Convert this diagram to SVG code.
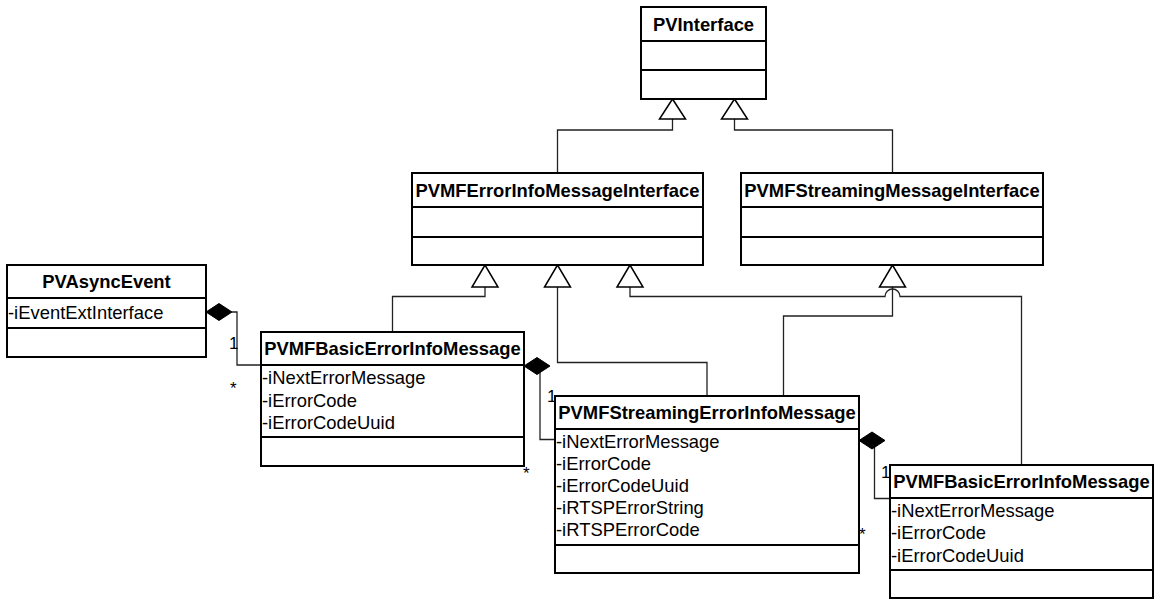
<svg xmlns="http://www.w3.org/2000/svg" width="1156" height="599" viewBox="0 0 1156 599">
<style>
.box{fill:#fff;stroke:#000;stroke-width:2}
.div{stroke:#000;stroke-width:2}
.t{font-family:"Liberation Sans",Arial,sans-serif;font-size:18.4px;font-weight:bold;text-anchor:middle;fill:#000}
.a{font-family:"Liberation Sans",Arial,sans-serif;font-size:18.4px;fill:#000}
.lbl{font-family:"Liberation Sans",Arial,sans-serif;font-size:17px;fill:#000}
.c{fill:none;stroke:#222;stroke-width:1.3}
.tri{fill:#fff;stroke:#000;stroke-width:1.5}
.dia{fill:#000;stroke:#000;stroke-width:1}
</style>
<rect width="1156" height="599" fill="#fff"/>
<g id="connectors">
<path class="c" d="M557.5 173 V130 H672.5 V119"/>
<polygon class="tri" points="672.5,99 659.5,119 685.5,119"/>
<path class="c" d="M892.5 173 V130 H734.5 V119"/>
<polygon class="tri" points="734.5,99 721.5,119 747.5,119"/>
<path class="c" d="M392.5 332 V296.5 H485 V287"/>
<polygon class="tri" points="485,265 472,287 498,287"/>
<path class="c" d="M707 396 V362.5 H557.5 V287"/>
<polygon class="tri" points="557.5,265 544.5,287 570.5,287"/>
<path class="c" d="M1021.5 465 V296.5 H900 A7.5 7.5 0 0 0 885 296.5 H630 V287"/>
<polygon class="tri" points="630,265 617,287 643,287"/>
<path class="c" d="M783.5 396 V316 H892.5 V287"/>
<polygon class="tri" points="892.5,265 879.5,287 905.5,287"/>
<path class="c" d="M232 312 H237 V365 H261"/>
<polygon class="dia" points="206,312 219,303.5 232,312 219,320.5"/>
<path class="c" d="M540 366 V439.5 H555"/>
<polygon class="dia" points="524,366 537,357.5 550,366 537,374.5"/>
<path class="c" d="M874.5 440.5 V498.5 H890"/>
<polygon class="dia" points="859,440.5 872,432 885,440.5 872,449"/>
<text class="lbl" x="229" y="349">1</text>
<text class="lbl" x="230" y="394">*</text>
<text class="lbl" x="547" y="402">1</text>
<text class="lbl" x="523" y="479">*</text>
<text class="lbl" x="881" y="477.5">1</text>
<text class="lbl" x="859" y="540">*</text>
</g>
<g id="PVInterface">
<rect class="box" x="641" y="7" width="125" height="92"/>
<line class="div" x1="641" y1="41" x2="766" y2="41"/>
<line class="div" x1="641" y1="70" x2="766" y2="70"/>
<text class="t" x="703.5" y="30.5">PVInterface</text>
</g>
<g id="PVMFErrorInfoMessageInterface">
<rect class="box" x="412" y="173" width="291" height="92"/>
<line class="div" x1="412" y1="207" x2="703" y2="207"/>
<line class="div" x1="412" y1="237" x2="703" y2="237"/>
<text class="t" x="557.5" y="196.5">PVMFErrorInfoMessageInterface</text>
</g>
<g id="PVMFStreamingMessageInterface">
<rect class="box" x="741" y="173" width="302" height="92"/>
<line class="div" x1="741" y1="207" x2="1043" y2="207"/>
<line class="div" x1="741" y1="237" x2="1043" y2="237"/>
<text class="t" x="892" y="196.5">PVMFStreamingMessageInterface</text>
</g>
<g id="PVAsyncEvent">
<rect class="box" x="7" y="265" width="199" height="92"/>
<line class="div" x1="7" y1="298" x2="206" y2="298"/>
<line class="div" x1="7" y1="328" x2="206" y2="328"/>
<text class="t" x="106.5" y="288">PVAsyncEvent</text>
<text class="a" x="8" y="319">-iEventExtInterface</text>
</g>
<g id="PVMFBasicErrorInfoMessage1">
<rect class="box" x="261" y="332" width="263" height="134"/>
<line class="div" x1="261" y1="365" x2="524" y2="365"/>
<line class="div" x1="261" y1="437" x2="524" y2="437"/>
<text class="t" x="392.5" y="355">PVMFBasicErrorInfoMessage</text>
<text class="a" x="262" y="384">-iNextErrorMessage</text>
<text class="a" x="262" y="406.5">-iErrorCode</text>
<text class="a" x="262" y="429">-iErrorCodeUuid</text>
</g>
<g id="PVMFStreamingErrorInfoMessage">
<rect class="box" x="555" y="396" width="304" height="177"/>
<line class="div" x1="555" y1="429" x2="859" y2="429"/>
<line class="div" x1="555" y1="545" x2="859" y2="545"/>
<text class="t" x="707" y="418.5">PVMFStreamingErrorInfoMessage</text>
<text class="a" x="556" y="447.5">-iNextErrorMessage</text>
<text class="a" x="556" y="469.5">-iErrorCode</text>
<text class="a" x="556" y="491.5">-iErrorCodeUuid</text>
<text class="a" x="556" y="513.5">-iRTSPErrorString</text>
<text class="a" x="556" y="535.5">-iRTSPErrorCode</text>
</g>
<g id="PVMFBasicErrorInfoMessage2">
<rect class="box" x="890" y="465" width="263" height="133"/>
<line class="div" x1="890" y1="498" x2="1153" y2="498"/>
<line class="div" x1="890" y1="570" x2="1153" y2="570"/>
<text class="t" x="1021.5" y="488">PVMFBasicErrorInfoMessage</text>
<text class="a" x="891" y="516.5">-iNextErrorMessage</text>
<text class="a" x="891" y="539">-iErrorCode</text>
<text class="a" x="891" y="561.5">-iErrorCodeUuid</text>
</g>
</svg>
